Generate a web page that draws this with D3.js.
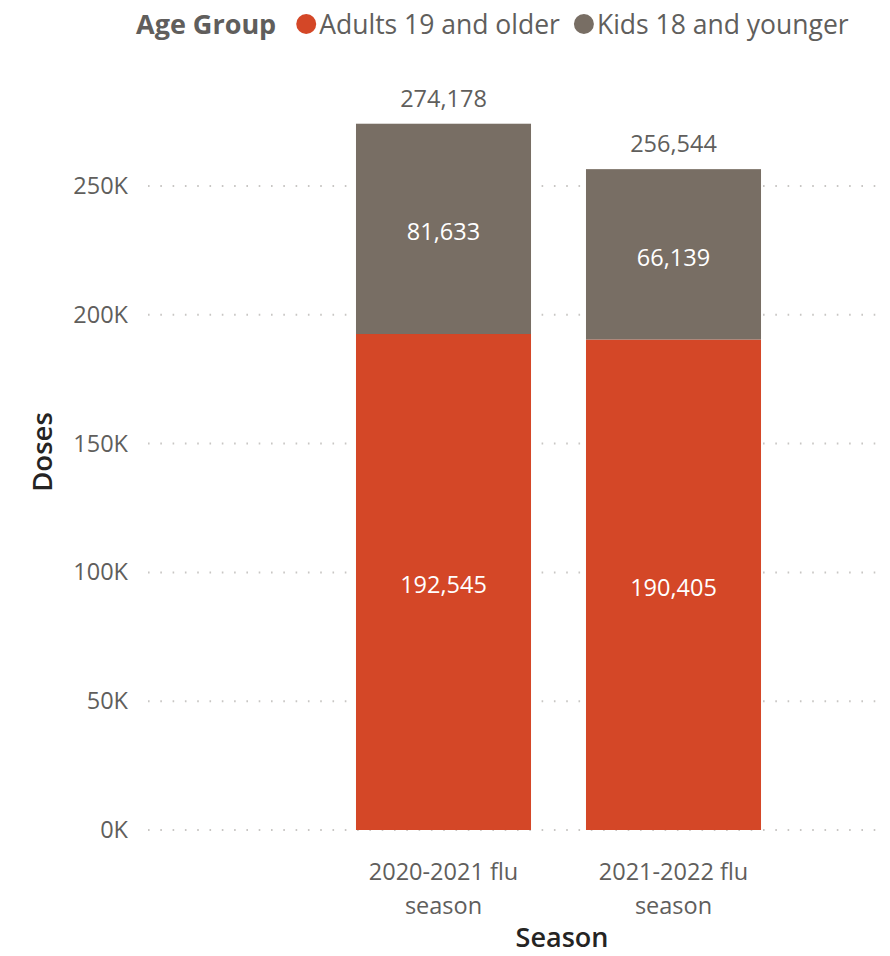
<!DOCTYPE html>
<html>
<head>
<meta charset="utf-8">
<script src="https://cdn.jsdelivr.net/npm/d3@7"></script>
<style>
  body { margin: 0; background: #fff; }
  text { font-family: "Open Sans", "Noto Sans", sans-serif; }
</style>
</head>
<body>
<div id="chart"></div>
<script>
// data
var seasons = ["2020-2021 flu season", "2021-2022 flu season"];
var adults = [192545, 190405];
var kids = [81633, 66139];
var groups = ["Adults 19 and older", "Kids 18 and younger"];
var yTicks = [0, 50000, 100000, 150000, 200000, 250000];

var width = 890, height = 956;
var colors = ["#D44727", "#786E64"];

var svg = d3.select("#chart")
  .append("svg")
    .attr("width", width)
    .attr("height", height);

var y = d3.scaleLinear()
  .domain([0, 250000])
  .range([830, 186]);

var x = d3.scaleBand()
  .domain(seasons)
  .range([328.5, 788.5])
  .paddingInner(0.239)
  .paddingOuter(0.1195);

// gridlines
svg.append("g")
  .selectAll("line")
  .data(yTicks)
  .enter().append("line")
    .attr("x1", 148)
    .attr("x2", 882)
    .attr("y1", function(d) { return y(d); })
    .attr("y2", function(d) { return y(d); })
    .attr("stroke", "#c8c6c4")
    .attr("stroke-width", 2)
    .attr("stroke-dasharray", "1.6 10.7");

// y axis labels
var yAxis = svg.append("g")
  .attr("transform", "translate(128,0)")
  .call(d3.axisLeft(y).tickValues(yTicks).tickSize(0).tickPadding(0)
    .tickFormat(function(d) { return (d / 1000) + "K"; }));
yAxis.select(".domain").remove();
yAxis.selectAll("text")
  .attr("fill", "#605E5C")
  .style("font-size", "23.5px")
  .style("font-family", "'Open Sans', sans-serif");

// stacked bars
var rows = seasons.map(function(s, i) {
  return { season: s, adults: adults[i], kids: kids[i] };
});
var stacked = d3.stack().keys(["adults", "kids"])(rows);

var layer = svg.append("g")
  .selectAll("g")
  .data(stacked)
  .enter().append("g")
    .attr("fill", function(d, i) { return colors[i]; });

layer.selectAll("rect")
  .data(function(d) { return d; })
  .enter().append("rect")
    .attr("x", function(d) { return x(d.data.season); })
    .attr("width", x.bandwidth())
    .attr("y", function(d) { return y(d[1]); })
    .attr("height", function(d) { return y(d[0]) - y(d[1]); });

var fmt = d3.format(",");

layer.selectAll("text")
  .data(function(d) { return d; })
  .enter().append("text")
    .attr("x", function(d) { return x(d.data.season) + x.bandwidth() / 2; })
    .attr("y", function(d) { return (y(d[0]) + y(d[1])) / 2 + 3; })
    .attr("dy", "0.36em")
    .attr("text-anchor", "middle")
    .attr("fill", "#fff")
    .style("font-size", "23.5px")
    .text(function(d) { return fmt(d[1] - d[0]); });

// totals
svg.append("g")
  .selectAll("text")
  .data(rows)
  .enter().append("text")
    .attr("x", function(d) { return x(d.season) + x.bandwidth() / 2; })
    .attr("y", function(d) { return y(d.adults + d.kids) - 17; })
    .attr("text-anchor", "middle")
    .attr("fill", "#605E5C")
    .style("font-size", "23.5px")
    .text(function(d) { return fmt(d.adults + d.kids); });

// x labels, wrapped on last space
var xl = svg.append("g")
  .selectAll("text")
  .data(seasons)
  .enter().append("text")
    .attr("text-anchor", "middle")
    .attr("fill", "#605E5C")
    .style("font-size", "23.5px");
xl.each(function(d) {
  var k = d.lastIndexOf(" ");
  var lines = [d.slice(0, k), d.slice(k + 1)];
  var t = d3.select(this);
  lines.forEach(function(l, j) {
    t.append("tspan")
      .attr("x", x(d) + x.bandwidth() / 2)
      .attr("y", 880 + j * 34)
      .text(l);
  });
});

// axis titles
svg.append("text")
  .attr("x", 562)
  .attr("y", 947)
  .attr("text-anchor", "middle")
  .attr("fill", "#252423")
  .style("font-size", "27px")
  .style("font-weight", 600)
  .text("Season");

svg.append("text")
  .attr("transform", "translate(52,452) rotate(-90)")
  .attr("text-anchor", "middle")
  .attr("fill", "#252423")
  .style("font-size", "27.5px")
  .style("font-weight", 600)
  .text("Doses");

// legend
var legend = svg.append("g");
var lx = 136;
var title = legend.append("text")
  .attr("x", lx)
  .attr("y", 34)
  .attr("fill", "#605E5C")
  .style("font-size", "27px")
  .style("font-weight", 700)
  .text("Age Group");
lx += title.node().getComputedTextLength() + 20;

groups.forEach(function(g, i) {
  legend.append("circle")
    .attr("cx", lx + 10)
    .attr("cy", 24)
    .attr("r", 10)
    .attr("fill", colors[i]);
  var t = legend.append("text")
    .attr("x", lx + 23)
    .attr("y", 34)
    .attr("fill", "#605E5C")
    .style("font-size", "26.5px")
    .text(g);
  lx += 23 + t.node().getComputedTextLength() + 14;
});
</script>
</body>
</html>
